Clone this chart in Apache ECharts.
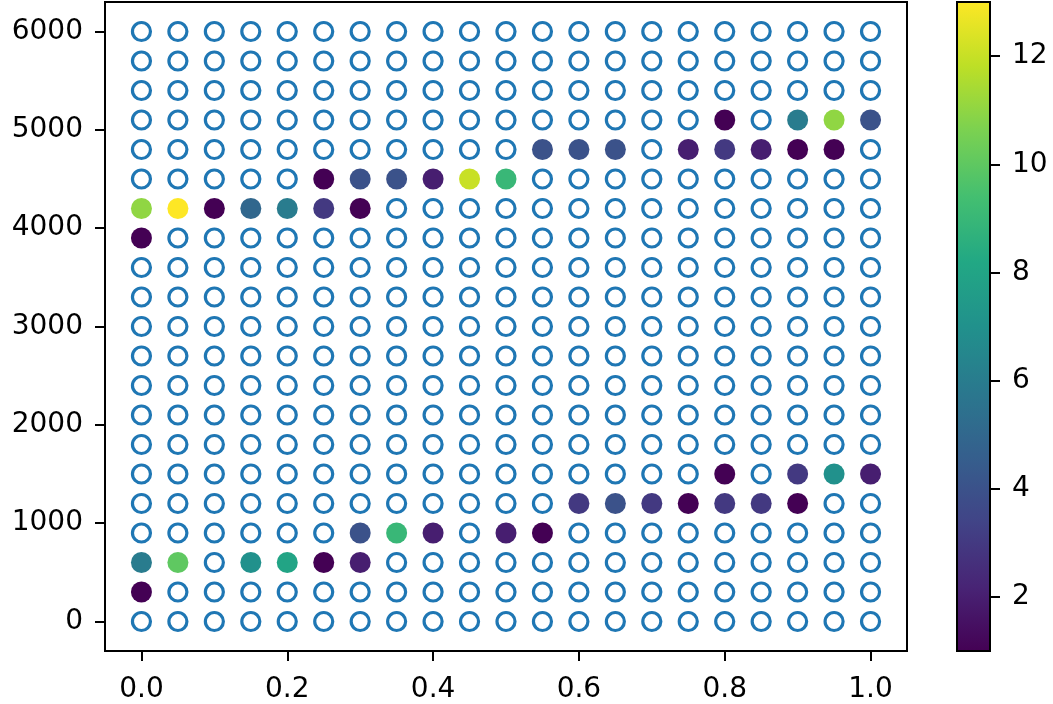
<!DOCTYPE html>
<html><head><meta charset="utf-8">
<script src="https://cdn.jsdelivr.net/npm/echarts@6/dist/echarts.min.js"></script>
<style>html,body{margin:0;padding:0;background:#fff}#c{width:1053px;height:704px}</style>
</head><body><div id="c"></div>
<script>
// grid positions
const xs = [0,0.05,0.1,0.15,0.2,0.25,0.3,0.35,0.4,0.45,0.5,0.55,0.6,0.65,0.7,0.75,0.8,0.85,0.9,0.95,1.0];
const ys = [0,300,600,900,1200,1500,1800,2100,2400,2700,3000,3300,3600,3900,4200,4500,4800,5100,5400,5700,6000];
// filled points: [x, y, value]
const filled = [
  [0.0,300,1],
  [0.0,600,6],[0.05,600,10],[0.15,600,7],[0.2,600,8],[0.25,600,1],[0.3,600,2],
  [0.3,900,4],[0.35,900,9],[0.4,900,2],[0.5,900,2],[0.55,900,1],
  [0.6,1200,3],[0.65,1200,4],[0.7,1200,3],[0.75,1200,1],[0.8,1200,3],[0.85,1200,3],[0.9,1200,1],
  [0.8,1500,1],[0.9,1500,3],[0.95,1500,7],[1.0,1500,2],
  [0.0,3900,1],
  [0.0,4200,11],[0.05,4200,13],[0.1,4200,1],[0.15,4200,5],[0.2,4200,6],[0.25,4200,3],[0.3,4200,1],
  [0.25,4500,1],[0.3,4500,4],[0.35,4500,4],[0.4,4500,2],[0.45,4500,12],[0.5,4500,9],
  [0.55,4800,4],[0.6,4800,4],[0.65,4800,4],[0.75,4800,2],[0.8,4800,3],[0.85,4800,2],[0.9,4800,1],[0.95,4800,1],
  [0.8,5100,1],[0.9,5100,6],[0.95,5100,11],[1.0,5100,4]
];
const xTicks = [0,0.2,0.4,0.6,0.8,1.0];
const yTicks = [0,1000,2000,3000,4000,5000,6000];
const cTicks = [2,4,6,8,10,12];
const cMin = 1, cMax = 13;
const viridis = ['#440154','#482475','#414487','#355f8d','#2a788e','#21918c','#22a884','#44bf70','#7ad151','#bddf26','#fde725'];

const key = (x,y)=>x.toFixed(2)+'_'+y;
const filledSet = new Set(filled.map(p=>key(p[0],p[1])));
const hollow = [];
ys.forEach(y=>xs.forEach(x=>{ if(!filledSet.has(key(x,y))) hollow.push([x,y]); }));

const font = 'DejaVu Sans';
const fs = 28;
const tickStyle = {color:'#000', width:2};
const chart = echarts.init(document.getElementById('c'));
chart.setOption({
  animation:false,
  backgroundColor:'#fff',
  grid:[
    {left:105, top:2, width:802, height:649, show:true, borderColor:'#000', borderWidth:2, backgroundColor:'transparent'},
    {left:957, top:2, width:33, height:649}
  ],
  xAxis:[
    {type:'value', gridIndex:0, min:-0.05, max:1.05, splitLine:{show:false},
     axisLine:{show:false, onZero:false},
     axisTick:{show:true, customValues:xTicks, length:10, lineStyle:tickStyle},
     axisLabel:{customValues:xTicks, color:'#000', fontFamily:font, fontSize:fs, margin:25,
       formatter:v=>v.toFixed(1)}},
    {type:'value', gridIndex:1, min:0, max:1, show:false}
  ],
  yAxis:[
    {type:'value', gridIndex:0, min:-300, max:6300, splitLine:{show:false},
     axisLine:{show:false, onZero:false},
     axisTick:{show:true, customValues:yTicks, length:10, lineStyle:tickStyle},
     axisLabel:{customValues:yTicks, color:'#000', fontFamily:font, fontSize:fs, margin:22,
       formatter:v=>String(v)}},
    {type:'value', gridIndex:1, position:'right', min:cMin, max:cMax, splitLine:{show:false},
     axisLine:{show:false, onZero:false},
     axisTick:{show:true, customValues:cTicks, length:10, lineStyle:tickStyle},
     axisLabel:{customValues:cTicks, color:'#000', fontFamily:font, fontSize:fs, margin:22,
       formatter:v=>String(v)}}
  ],
  visualMap:{type:'continuous', show:false, min:cMin, max:cMax, dimension:2, seriesIndex:1,
    inRange:{color:viridis}},
  series:[
    {type:'scatter', xAxisIndex:0, yAxisIndex:0, data:hollow, symbol:'circle', symbolSize:18,
     itemStyle:{color:'#fff', borderColor:'#1f77b4', borderWidth:3.2, opacity:1}},
    {type:'scatter', xAxisIndex:0, yAxisIndex:0, data:filled, symbol:'circle', symbolSize:21,
     itemStyle:{opacity:1}},
    {type:'custom', xAxisIndex:1, yAxisIndex:1, data:[[0,cMin,1,cMax]],
     renderItem:(params, api)=>{
       const p0 = api.coord([api.value(0), api.value(1)]);
       const p1 = api.coord([api.value(2), api.value(3)]);
       const stops = viridis.map((c,i)=>({offset:i/(viridis.length-1), color:c}));
       return {type:'rect', shape:{x:p0[0], y:p1[1], width:p1[0]-p0[0], height:p0[1]-p1[1]},
         style:{fill:new echarts.graphic.LinearGradient(0,1,0,0,stops), stroke:'#000', lineWidth:2}};
     }}
  ]
});
</script></body></html>
